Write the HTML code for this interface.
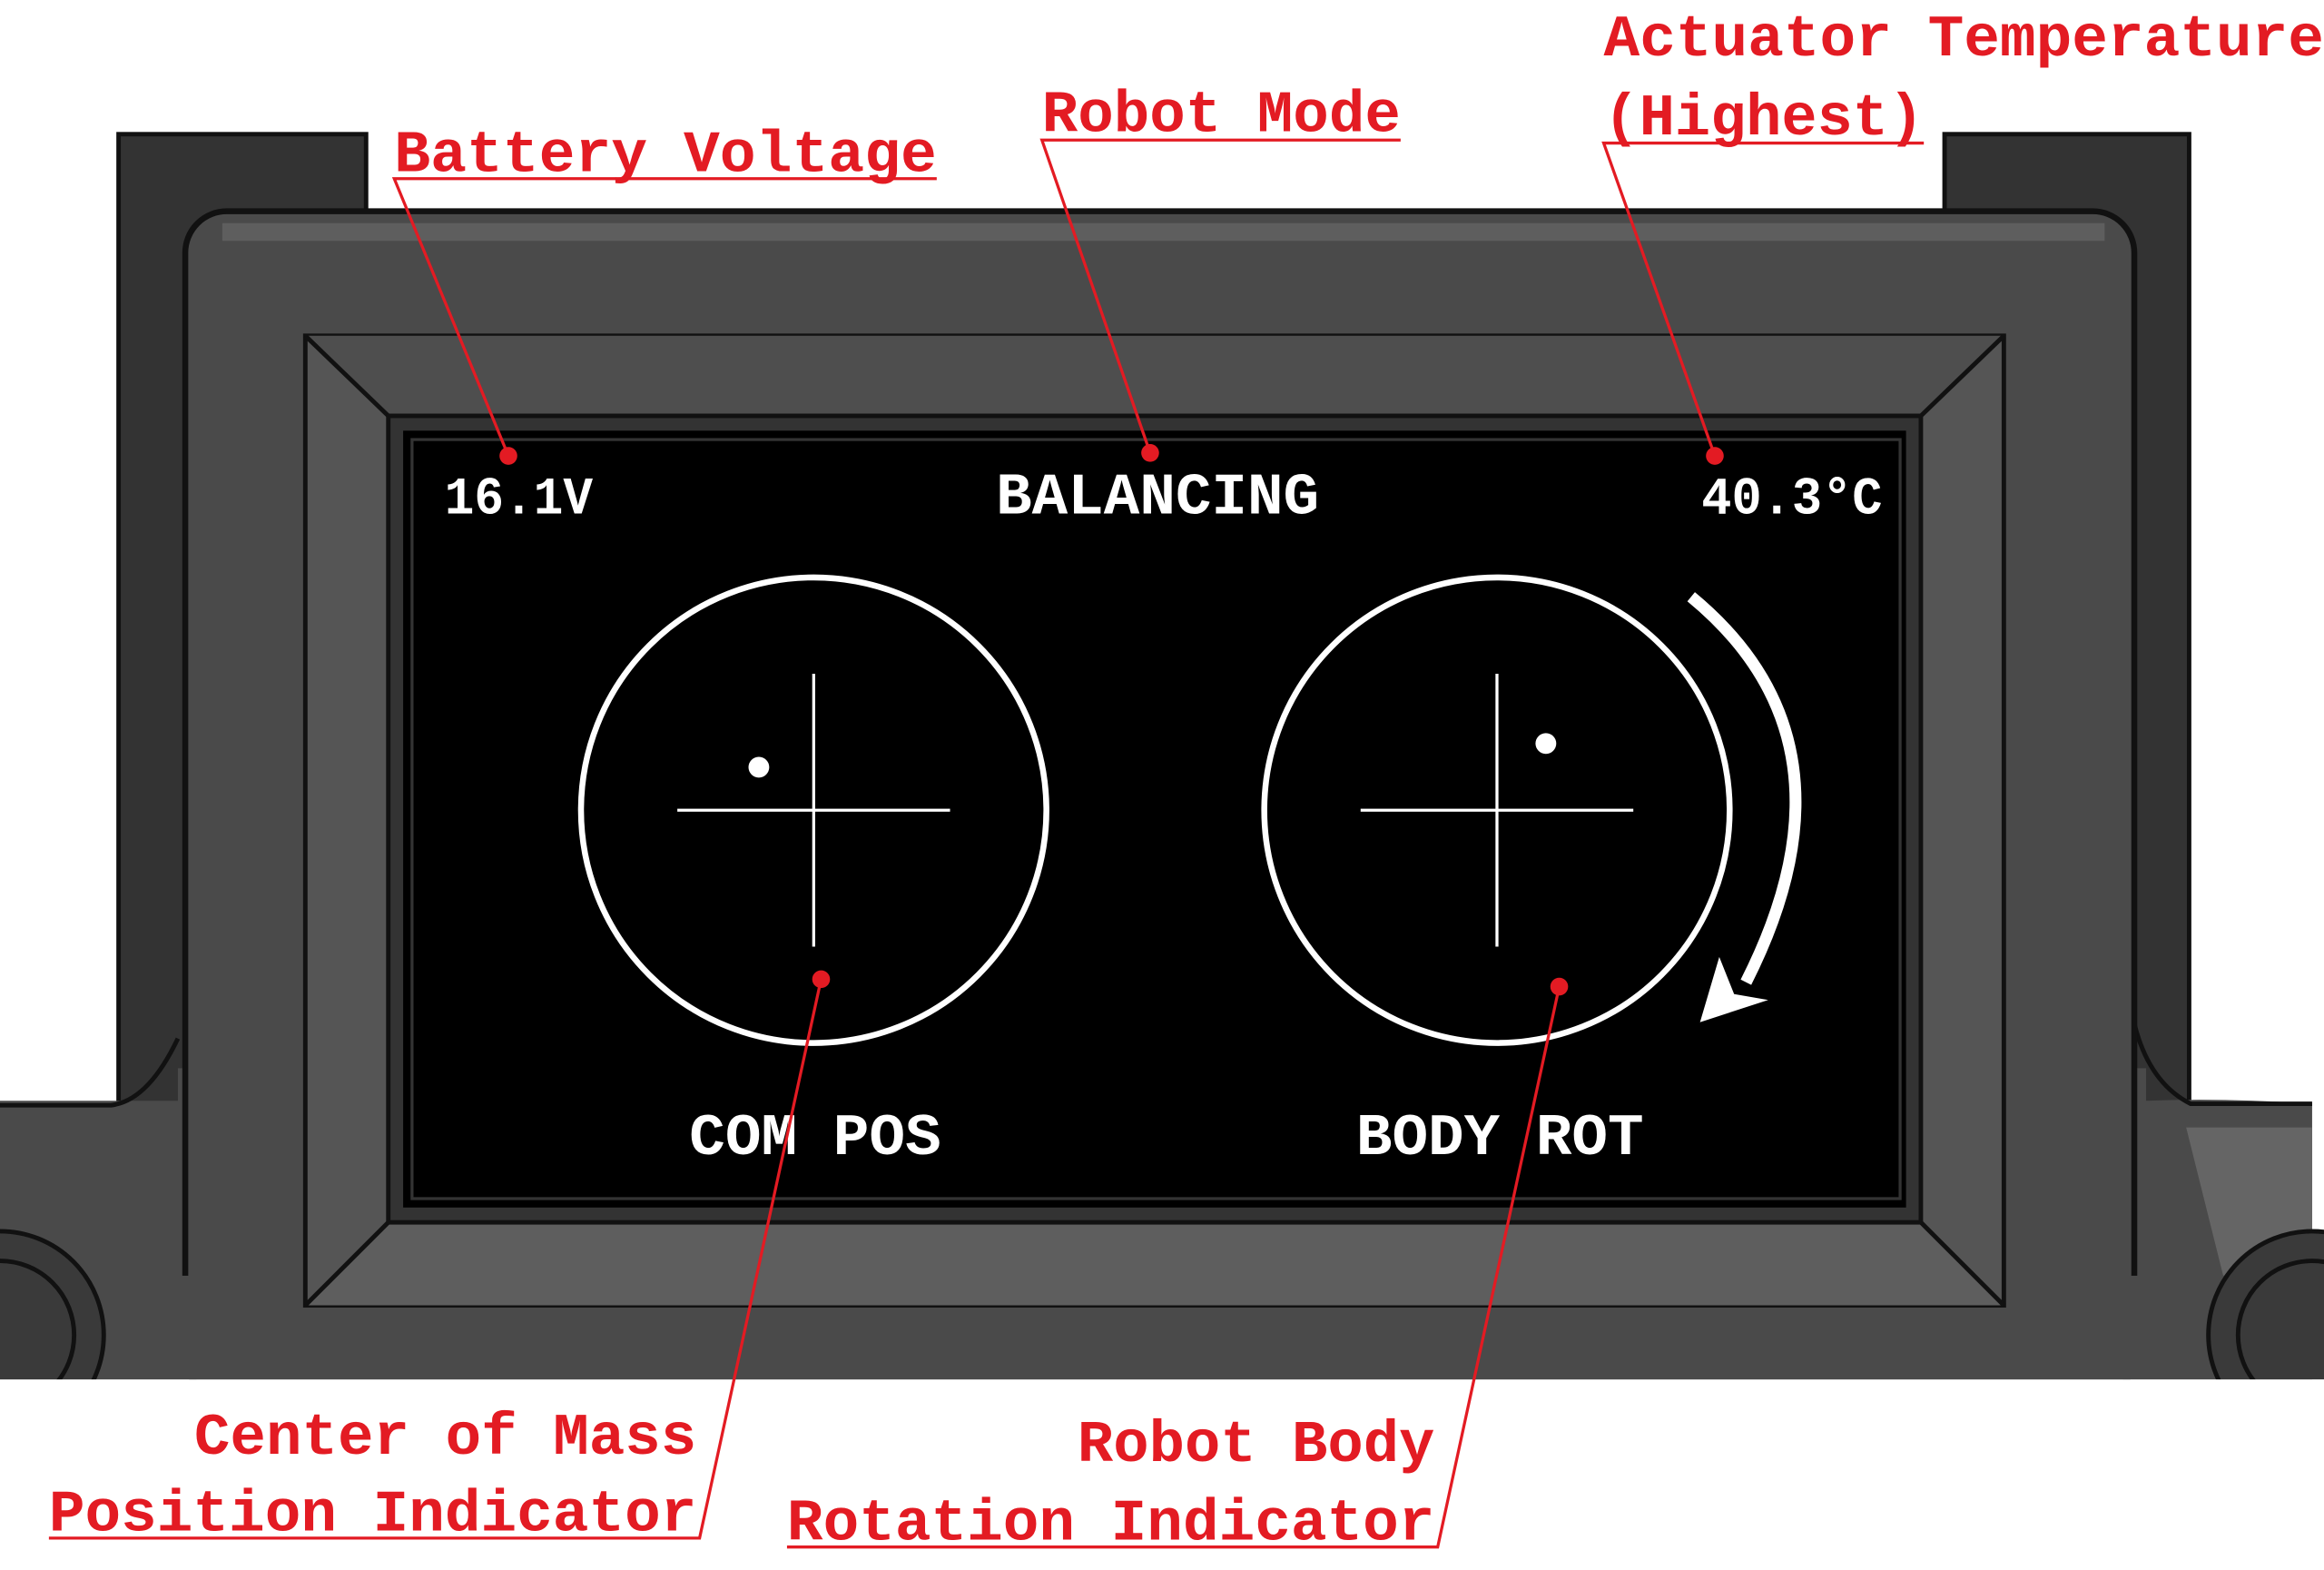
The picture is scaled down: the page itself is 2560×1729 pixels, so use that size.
<!DOCTYPE html>
<html><head><meta charset="utf-8"><style>
html,body{margin:0;padding:0;background:#fff;}
svg{display:block;}
.r{font-family:"Liberation Mono",monospace;font-weight:bold;fill:#e31b23;font-size:40px;}
.w{font-family:"Liberation Mono",monospace;fill:#fff;font-weight:bold;}
</style></head><body>
<svg width="2560" height="1729" viewBox="0 0 1568 1058" xmlns="http://www.w3.org/2000/svg">
<defs><clipPath id="c"><rect x="0" y="0" width="1568" height="930"/></clipPath></defs>
<rect width="1568" height="1058" fill="#fff"/>
<!-- posts -->
<rect x="80" y="90" width="167" height="660" fill="#333" stroke="#111" stroke-width="3"/>
<rect x="1312" y="90" width="165" height="660" fill="#333" stroke="#111" stroke-width="3"/>
<!-- bottom wide part -->
<path d="M0 742 L120 742 L120 720 L1448 720 L1448 742 Q1500 740 1560 744 L1560 930 L0 930 Z" fill="#4a4a4a"/>
<path d="M0 745 L75 745 Q100 742 120 700" fill="none" stroke="#111" stroke-width="3"/>
<path d="M1440 690 Q1450 730 1478 744 L1560 744" fill="none" stroke="#111" stroke-width="3"/>
<path d="M1475 760 L1560 760 L1560 900 Q1520 860 1500 860 Z" fill="#656565"/>
<!-- main body -->
<rect x="125" y="142" width="1315" height="800" rx="28" fill="#4a4a4a" stroke="#111" stroke-width="4"/>
<rect x="0" y="860" width="1560" height="70" fill="#4a4a4a"/>
<rect x="150" y="150" width="1270" height="12" fill="#5e5e5e"/>
<g clip-path="url(#c)">
<circle cx="1560" cy="900" r="70" fill="#3a3a3a" stroke="#111" stroke-width="3"/>
<circle cx="1560" cy="900" r="50" fill="none" stroke="#111" stroke-width="3"/>
<circle cx="0" cy="900" r="70" fill="#3a3a3a" stroke="#111" stroke-width="3"/>
<circle cx="0" cy="900" r="50" fill="none" stroke="#111" stroke-width="3"/>
</g>
<rect x="0" y="930" width="1568" height="128" fill="#fff"/>
<!-- bezel -->
<rect x="206" y="226" width="1146" height="654" fill="#555" stroke="#111" stroke-width="3"/>
<polygon points="206,226 1352,226 1296,280 262,280" fill="#4e4e4e"/>
<polygon points="206,880 1352,880 1296,824 262,824" fill="#5e5e5e"/>
<line x1="206" y1="226" x2="262" y2="280" stroke="#111" stroke-width="3"/>
<line x1="1352" y1="226" x2="1296" y2="280" stroke="#111" stroke-width="3"/>
<line x1="206" y1="880" x2="262" y2="824" stroke="#111" stroke-width="3"/>
<line x1="1352" y1="880" x2="1296" y2="824" stroke="#111" stroke-width="3"/>
<rect x="262" y="280" width="1034" height="544" fill="#333" stroke="#111" stroke-width="3"/>
<rect x="272" y="290" width="1014" height="524" fill="#000"/>
<rect x="278" y="296" width="1004" height="512" fill="none" stroke="#333" stroke-width="2"/>
<!-- screen text -->
<text class="w" x="300" y="346" font-size="36" textLength="100" lengthAdjust="spacingAndGlyphs">16.1V</text>
<text class="w" x="672" y="346" font-size="40" textLength="218" lengthAdjust="spacingAndGlyphs">BALANCING</text>
<text class="w" x="1148" y="346" font-size="36" textLength="122" lengthAdjust="spacingAndGlyphs">40.3°C</text>
<text class="w" x="465" y="778" font-size="40" textLength="170" lengthAdjust="spacingAndGlyphs">COM POS</text>
<text class="w" x="915" y="778" font-size="40" textLength="194" lengthAdjust="spacingAndGlyphs">BODY ROT</text>
<!-- circles -->
<circle cx="549" cy="546" r="157" fill="none" stroke="#fff" stroke-width="4"/>
<line x1="457" y1="546" x2="641" y2="546" stroke="#fff" stroke-width="2"/>
<line x1="549" y1="454" x2="549" y2="638" stroke="#fff" stroke-width="2"/>
<circle cx="512" cy="517" r="7" fill="#fff"/>
<circle cx="1010" cy="546" r="157" fill="none" stroke="#fff" stroke-width="4"/>
<line x1="918" y1="546" x2="1102" y2="546" stroke="#fff" stroke-width="2"/>
<line x1="1010" y1="454" x2="1010" y2="638" stroke="#fff" stroke-width="2"/>
<circle cx="1043" cy="501" r="7" fill="#fff"/>
<!-- arrow -->
<path d="M1141 402 Q1260 500 1178 662" fill="none" stroke="#fff" stroke-width="8"/>
<polygon points="1147,689 1160,645 1170,670 1193,674" fill="#fff"/>
<!-- labels -->
<g stroke="#e31b23" stroke-width="2" fill="none">
<polyline points="632,120 266,120 343,307"/>
<polyline points="945,94 703,94 776,305"/>
<polyline points="1298,96 1082,96 1157,307"/>
<polyline points="33,1037 472,1037 554,660"/>
<polyline points="531,1043 970,1043 1052,665"/>
</g>
<g fill="#e31b23">
<circle cx="343" cy="307" r="6"/><circle cx="776" cy="305" r="6"/><circle cx="1157" cy="307" r="6"/>
<circle cx="554" cy="660" r="6"/><circle cx="1052" cy="665" r="6"/>
</g>
<text class="r" x="266" y="115" textLength="366" lengthAdjust="spacingAndGlyphs">Battery Voltage</text>
<text class="r" x="703" y="88" textLength="242" lengthAdjust="spacingAndGlyphs">Robot Mode</text>
<text class="r" x="1082" y="37" textLength="486" lengthAdjust="spacingAndGlyphs">Actuator Temperature</text>
<text class="r" x="1082" y="90" textLength="216" lengthAdjust="spacingAndGlyphs">(Highest)</text>
<text class="r" x="131" y="980" textLength="339" lengthAdjust="spacingAndGlyphs">Center of Mass</text>
<text class="r" x="33" y="1032" textLength="437" lengthAdjust="spacingAndGlyphs">Position Indicator</text>
<text class="r" x="727" y="985" textLength="241" lengthAdjust="spacingAndGlyphs">Robot Body</text>
<text class="r" x="531" y="1038" textLength="437" lengthAdjust="spacingAndGlyphs">Rotation Indicator</text>
</svg>
</body></html>
